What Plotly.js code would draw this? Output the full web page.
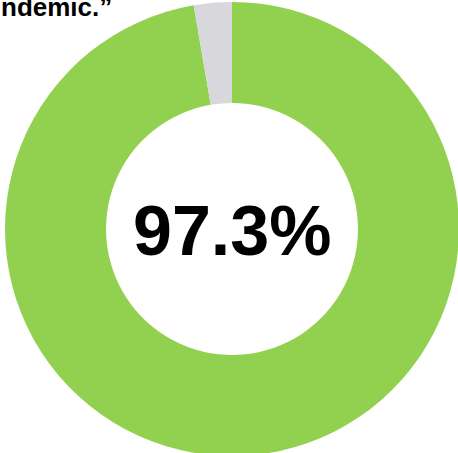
<!DOCTYPE html>
<html>
<head>
<meta charset="utf-8">
<script src="https://cdn.plot.ly/plotly-3.0.1.min.js"></script>
<style>
html,body{margin:0;padding:0;overflow:hidden;background:#fff;}
#chart{position:absolute;left:0;top:0;width:464px;height:458px;}
</style>
</head>
<body>
<div id="chart"></div>
<script>
const labels = ["Yes", "No"];
const values = [97.3, 2.7];
const colors = ["#92D050", "#D7D7DC"];
const centerLabel = "97.3%";
const titleFragment = "ndemic.\u201D";

const W = 464, H = 458;
const trace = {
  type: "pie",
  labels: labels,
  values: values,
  hole: 0.555,
  sort: false,
  direction: "clockwise",
  rotation: 0,
  textinfo: "none",
  hoverinfo: "label+percent",
  marker: {colors: colors, line: {width: 0}},
  domain: {x: [5 / W, 459 / W], y: [2 / H, 456 / H]},
  showlegend: false
};
const layout = {
  width: W,
  height: H,
  margin: {l: 0, r: 0, t: 0, b: 0},
  paper_bgcolor: "#ffffff",
  showlegend: false,
  annotations: [
    {
      text: "<b>" + centerLabel + "</b>",
      xref: "paper", yref: "paper",
      x: 231.5 / W, y: (H - 231) / H,
      xanchor: "center", yanchor: "middle",
      showarrow: false,
      font: {family: "Liberation Sans, Arial, sans-serif", size: 70, color: "#000000"}
    },
    {
      text: "<b>" + titleFragment + "</b>",
      xref: "paper", yref: "paper",
      x: 114 / W, y: (H + 10) / H,
      xanchor: "right", yanchor: "top",
      showarrow: false,
      font: {family: "Liberation Sans, Arial, sans-serif", size: 26, color: "#000000"}
    }
  ]
};
Plotly.newPlot("chart", [trace], layout, {displayModeBar: false, staticPlot: true});
</script>
</body>
</html>
